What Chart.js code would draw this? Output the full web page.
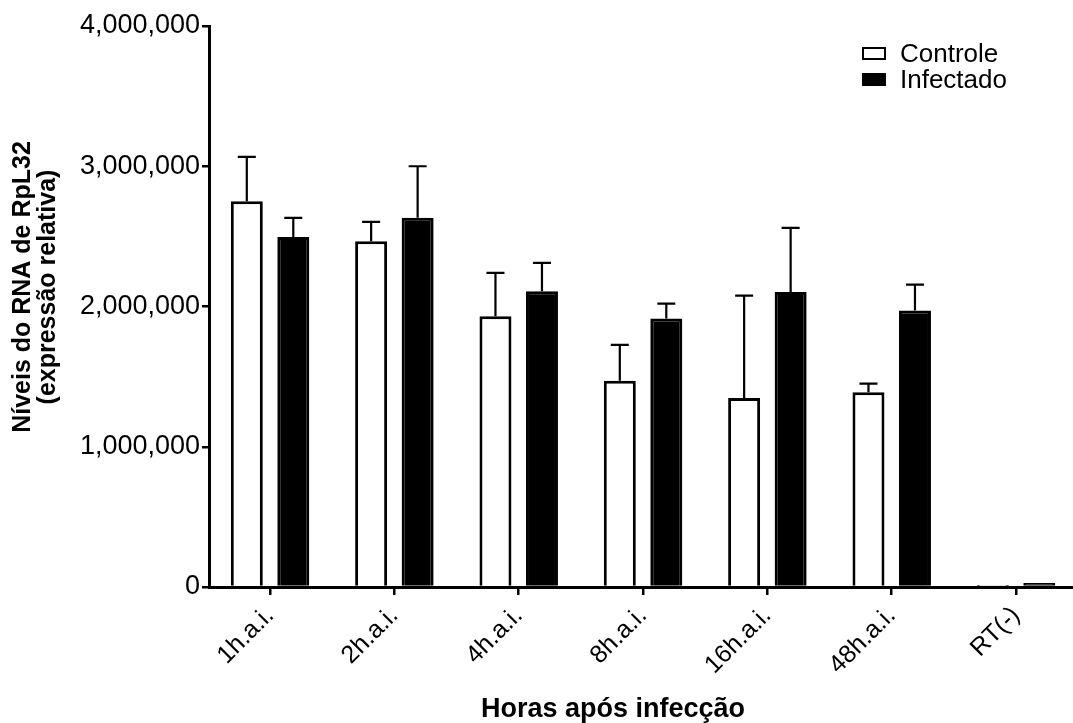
<!DOCTYPE html>
<html>
<head>
<meta charset="utf-8">
<script src="https://cdn.jsdelivr.net/npm/chart.js@4/dist/chart.umd.min.js"></script>
<style>
    body { margin: 0; background: #fff; }
    #wrap { position: relative; width: 1073px; height: 723px; }
    #grafico { position: absolute; left: 0; top: 0; }
    #legenda { position: absolute; left: 862px; top: 40px; font: 26px Arial, "Liberation Sans", sans-serif; color: #000; }
    .item { display: flex; align-items: center; height: 26px; }
    .caixa { width: 24px; height: 13px; box-sizing: border-box; border: 2.6px solid #000; margin-right: 14px; }
</style>
</head>
<body>
<div id="wrap">
    <canvas id="grafico" width="1073" height="723"></canvas>
    <div id="legenda">
        <div class="item"><span class="caixa" style="background:#fff"></span>Controle</div>
        <div class="item"><span class="caixa" style="background:#000"></span>Infectado</div>
    </div>
</div>
<script>
// dados
const categorias = ['1h.a.i.', '2h.a.i.', '4h.a.i.', '8h.a.i.', '16h.a.i.', '48h.a.i.', 'RT(-)'];
const controle = [2750000, 2465000, 1930000, 1471000, 1348000, 1388000, 15000];
const controleErro = [317000, 138000, 310000, 255000, 730000, 62000, 0];
const infectado = [2496000, 2632000, 2108000, 1914000, 2104000, 1971000, 28000];
const infectadoErro = [136000, 368000, 203000, 107000, 457000, 185000, 0];
const yTicks = [0, 1000000, 2000000, 3000000, 4000000];

const fonte = 'Arial, "Liberation Sans", sans-serif';

// barras de erro (só para cima)
const barrasErro = {
    id: 'barrasErro',
    afterDatasetsDraw(chart) {
        const ctx = chart.ctx;
        const y = chart.scales.y;
        [controleErro, infectadoErro].forEach((erros, d) => {
            const meta = chart.getDatasetMeta(d);
            const valores = chart.data.datasets[d].data;
            meta.data.forEach((barra, i) => {
                if (!erros[i]) return;
                const topo = y.getPixelForValue(valores[i].y + erros[i]);
                ctx.save();
                ctx.strokeStyle = '#000';
                ctx.lineWidth = 2.2;
                ctx.beginPath();
                ctx.moveTo(barra.x, barra.y);
                ctx.lineTo(barra.x, topo);
                ctx.moveTo(barra.x - 9, topo);
                ctx.lineTo(barra.x + 9, topo);
                ctx.stroke();
                ctx.restore();
            });
        });
    }
};

// títulos dos eixos
const titulos = {
    id: 'titulos',
    afterDraw(chart) {
        const ctx = chart.ctx;
        ctx.save();
        ctx.fillStyle = '#000';
        ctx.font = 'bold 27px ' + fonte;
        ctx.textAlign = 'center';
        ctx.textBaseline = 'alphabetic';
        ctx.fillText('Horas após infecção', 613, 717);
        ctx.translate(0, 287);
        ctx.rotate(-Math.PI / 2);
        ctx.font = 'bold 25px ' + fonte;
        ctx.textBaseline = 'middle';
        ctx.fillText('Níveis do RNA de RpL32', 0, 23);
        ctx.fillText('(expressão relativa)', 0, 48);
        ctx.restore();
    }
};

const ctx = document.getElementById('grafico').getContext('2d');
const grafico = new Chart(ctx, {
    type: 'bar',
    data: {
        datasets: [{
            label: 'Controle',
            data: controle.map((v, i) => ({ x: i + 1, y: v })),
            backgroundColor: '#fff',
            borderColor: '#000',
            borderWidth: 3
        }, {
            label: 'Infectado',
            data: infectado.map((v, i) => ({ x: i + 1, y: v })),
            backgroundColor: '#000',
            borderColor: '#000',
            borderWidth: 3
        }]
    },
    options: {
        responsive: false,
        animation: false,
        categoryPercentage: 0.748,
        barPercentage: 0.688,
        layout: { padding: { top: 26, right: 0, bottom: 0, left: 0 } },
        plugins: {
            legend: { display: false },
            tooltip: { enabled: false }
        },
        scales: {
            x: {
                type: 'linear',
                offset: false,
                min: 0.509,
                max: 7.458,
                afterBuildTicks: s => { s.ticks = categorias.map((c, i) => ({ value: i + 1 })); },
                afterFit: s => { s.height = 136; },
                ticks: {
                    callback: v => categorias[v - 1],
                    minRotation: 45,
                    maxRotation: 45,
                    color: '#000',
                    padding: 6,
                    font: { size: 25, family: fonte }
                },
                grid: { offset: false, drawOnChartArea: false, drawTicks: true, tickLength: 8, color: '#000', lineWidth: 2.5 },
                border: { display: true, color: '#000', width: 3 }
            },
            y: {
                min: 0,
                max: 4000000,
                afterBuildTicks: s => { s.ticks = yTicks.map(v => ({ value: v })); },
                afterFit: s => { s.width = 209; },
                ticks: {
                    callback: v => v.toLocaleString('en-US'),
                    color: '#000',
                    padding: 2,
                    font: { size: 27, family: fonte }
                },
                grid: { drawOnChartArea: false, drawTicks: true, tickLength: 7, color: '#000', lineWidth: 2.5 },
                border: { display: true, color: '#000', width: 3 }
            }
        }
    },
    plugins: [barrasErro, titulos]
});
</script>
</body>
</html>
